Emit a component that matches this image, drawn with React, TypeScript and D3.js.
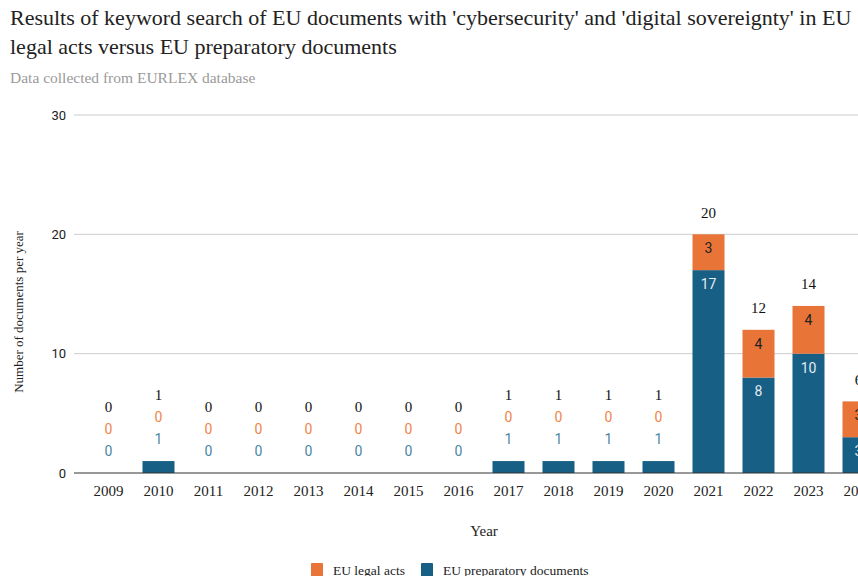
import React from "react";
import * as d3 from "d3";

const years = ["2009","2010","2011","2012","2013","2014","2015","2016","2017","2018","2019","2020","2021","2022","2023","2024"];
const preparatory = [0,1,0,0,0,0,0,0,1,1,1,1,17,8,10,3];
const legal = [0,0,0,0,0,0,0,0,0,0,0,0,3,4,4,3];
const yTicks = [0,10,20,30];
const seriesNames = ["EU legal acts","EU preparatory documents"];

const W = 858, H = 576;
const BLUE = "#175f84";
const ORANGE = "#e87437";
const serif = "'Liberation Serif', 'Times New Roman', serif";
const sans = "Roboto, 'Noto Sans', sans-serif";

export default function App() {
  const left = 74, right = 893, top = 115, bottom = 473;
  const x = d3.scaleBand<string>().domain(years).range([left, right]).paddingInner(0.36).paddingOuter(0.37);
  const y = d3.scaleLinear().domain([0, 30]).range([bottom, top]);
  const bw = x.bandwidth();

  const marks: React.ReactNode[] = [];
  years.forEach((yr, i) => {
    const cx = (x(yr) as number) + bw / 2;
    const p = preparatory[i], l = legal[i];
    const pTop = y(p), lTop = y(p + l);
    if (p > 0) marks.push(<rect key={"p" + yr} x={x(yr)} y={pTop} width={bw} height={bottom - pTop} fill={BLUE} />);
    if (l > 0) marks.push(<rect key={"l" + yr} x={x(yr)} y={lTop} width={bw} height={pTop - lTop} fill={ORANGE} />);
    let cursor: number;
    const pInside = bottom - pTop > 24;
    const lInside = pTop - lTop > 24;
    if (pInside) {
      marks.push(<text key={"pl" + yr} x={cx} y={pTop + 14} dy="0.35em" textAnchor="middle" fontFamily={sans} fontSize={14} fill="#e4ecf2">{p}</text>);
      cursor = pTop;
    } else {
      marks.push(<text key={"pl" + yr} x={cx} y={pTop - 22} dy="0.35em" textAnchor="middle" fontFamily={sans} fontSize={14} fill="#4a86a6">{p}</text>);
      cursor = pTop - 22;
    }
    if (lInside) {
      marks.push(<text key={"ll" + yr} x={cx} y={lTop + 14} dy="0.35em" textAnchor="middle" fontFamily={sans} fontSize={14} fill="#222">{l}</text>);
      cursor = lTop;
    } else {
      const ly = Math.min(cursor, lTop) - 22;
      marks.push(<text key={"ll" + yr} x={cx} y={ly} dy="0.35em" textAnchor="middle" fontFamily={sans} fontSize={14} fill="#f0844a">{l}</text>);
      cursor = ly;
    }
    marks.push(<text key={"t" + yr} x={cx} y={cursor - 22} dy="0.35em" textAnchor="middle" fontFamily={serif} fontSize={15} fill="#111">{p + l}</text>);
  });

  return (
    <svg width={W} height={H} style={{ position: "absolute", left: 0, top: 0, background: "#fff" }}>
      <text x={10} y={25} fontFamily={serif} fontSize={22} fill="#222">Results of keyword search of EU documents with 'cybersecurity' and 'digital sovereignty' in EU</text>
      <text x={10} y={54} fontFamily={serif} fontSize={22} fill="#222">legal acts versus EU preparatory documents</text>
      <text x={10} y={83} fontFamily={serif} fontSize={15.5} fill="#9a9a9a">Data collected from EURLEX database</text>
      {yTicks.map(t => (
        <g key={t}>
          {t > 0 && <line x1={left} x2={W} y1={y(t)} y2={y(t)} stroke="#cccccc" strokeWidth={1} />}
          <text x={66} y={y(t)} dy="0.35em" textAnchor="end" fontFamily={sans} fontSize={13} fill="#222">{t}</text>
        </g>
      ))}
      {marks}
      <line x1={left} x2={W} y1={bottom} y2={bottom} stroke="#333" strokeWidth={1} />
      {years.map(yr => (
        <text key={"x" + yr} x={(x(yr) as number) + bw / 2} y={bottom + 18} dy="0.35em" textAnchor="middle" fontFamily={serif} fontSize={15} fill="#222">{yr}</text>
      ))}
      <text transform={`translate(18,${(top + bottom) / 2 + 18}) rotate(-90)`} textAnchor="middle" dy="0.35em" fontFamily={serif} fontSize={13} fill="#222">Number of documents per year</text>
      <text x={484} y={531} dy="0.35em" textAnchor="middle" fontFamily={serif} fontSize={15} fill="#222">Year</text>
      <g>
        <rect x={311} y={563} width={12} height={14} rx={1} fill={ORANGE} />
        <text x={333} y={570} dy="0.35em" fontFamily={serif} fontSize={13.5} fill="#222">{seriesNames[0]}</text>
        <rect x={421} y={563} width={12} height={14} rx={1} fill={BLUE} />
        <text x={443} y={570} dy="0.35em" fontFamily={serif} fontSize={13.5} fill="#222">{seriesNames[1]}</text>
      </g>
    </svg>
  );
}
